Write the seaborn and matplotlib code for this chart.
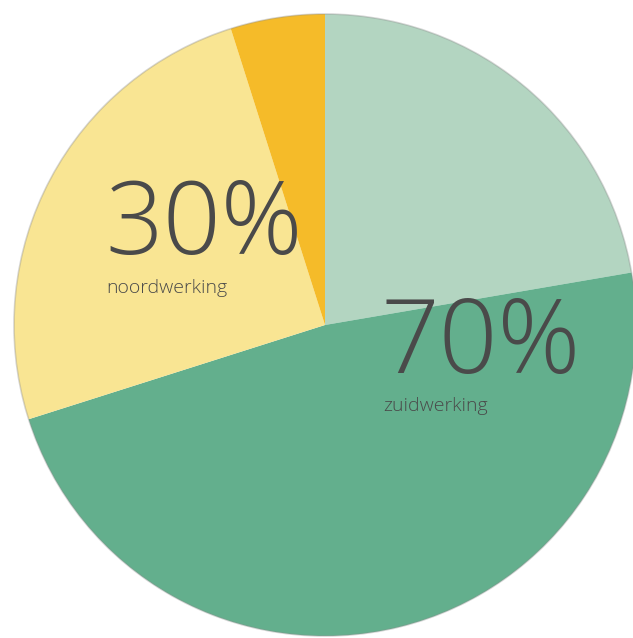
import matplotlib
matplotlib.use("Agg")
import matplotlib.pyplot as plt
import matplotlib.patches as mpatches
import seaborn as sns

segments = ["zuid A", "zuid B", "noord A", "noord B"]
values = [22.3, 47.8, 25.0, 4.9]
colors = ["#b3d5c1", "#63af8d", "#f9e593", "#f5bb29"]
big_labels = ["30%", "70%"]
small_labels = ["noordwerking", "zuidwerking"]

sns.set_theme(style="white")
plt.rcParams['font.family'] = ['Open Sans', 'DejaVu Sans']

W, H = 633, 638
cx, cy, R = 325, 325, 311
fig = plt.figure(figsize=(W / 100, H / 100), dpi=100)
ax = fig.add_axes([0, 0, 1, 1])
ax.pie(values, colors=colors, startangle=90, counterclock=False,
       radius=1, wedgeprops=dict(linewidth=0))
ax.add_patch(mpatches.Circle((0, 0), 1, fill=False, edgecolor="#8a8a8a",
                             alpha=0.35, linewidth=1.2))
ax.set_xlim(-cx / R, (W - cx) / R)
ax.set_ylim(-(H - cy) / R, cy / R)
ax.set_aspect('equal')
ax.axis('off')

def px(x, y):
    return ((x - cx) / R, (cy - y) / R)

tc = "#4a4a4a"
ax.text(*px(105, 254), big_labels[0], fontsize=73, fontweight='light', color=tc, ha='left', va='baseline')
ax.text(*px(106, 293), small_labels[0], fontsize=14, fontweight='light', color=tc, ha='left', va='baseline')
ax.text(*px(380, 373), big_labels[1], fontsize=74, fontweight='light', color=tc, ha='left', va='baseline')
ax.text(*px(383, 411), small_labels[1], fontsize=14, fontweight='light', color=tc, ha='left', va='baseline')

fig.savefig("out.png", dpi=100, facecolor="white")
